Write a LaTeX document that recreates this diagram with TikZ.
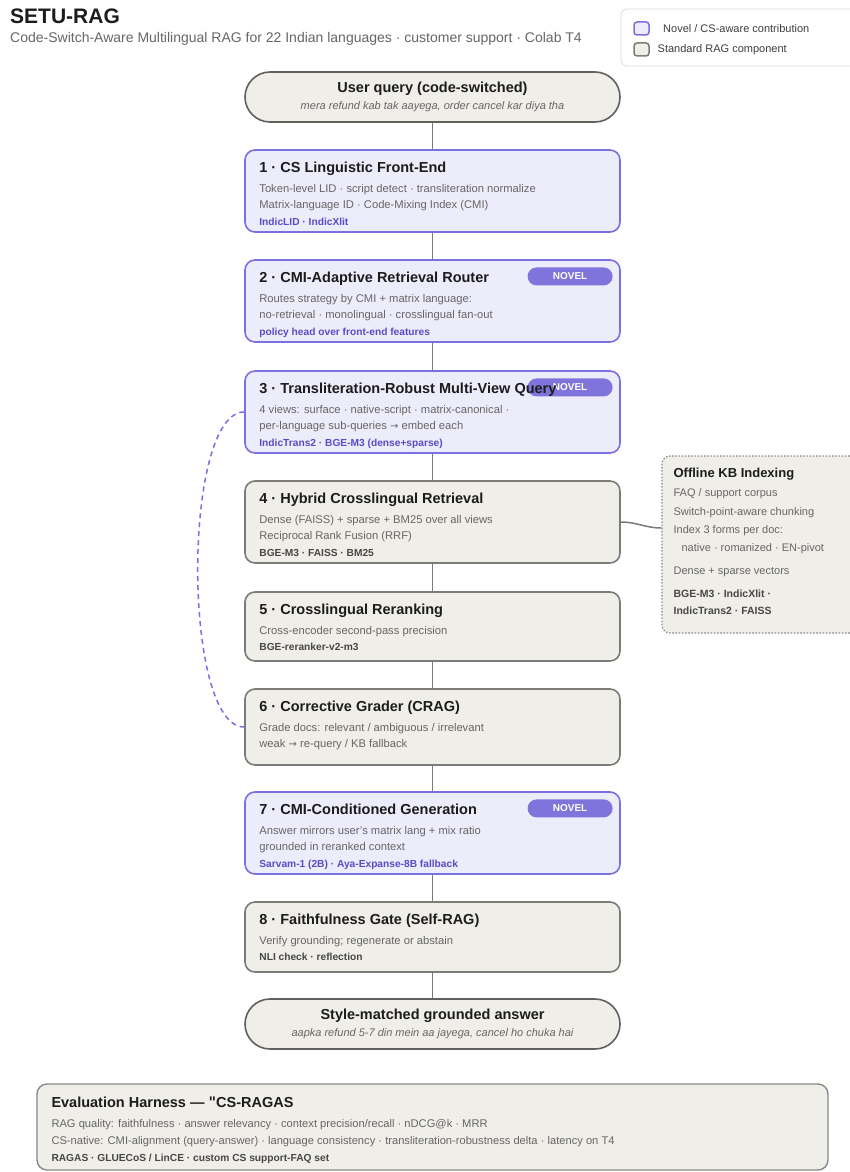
\documentclass[tikz,border=0pt]{standalone}
\usepackage{fontspec}
\setmainfont{Liberation Sans}
\newfontfamily\symfont{DejaVu Sans}
\usetikzlibrary{positioning,calc}

\definecolor{novfill}{HTML}{EDECFB}
\definecolor{novedge}{HTML}{7C6FE0}
\definecolor{novbadge}{HTML}{7F74DC}
\definecolor{novtool}{HTML}{5A4BC6}
\definecolor{stdfill}{HTML}{F0EEE8}
\definecolor{stdedge}{HTML}{7D7B76}
\definecolor{pilledge}{HTML}{62605C}
\definecolor{kbedge}{HTML}{8E8C87}
\definecolor{legedge}{HTML}{DCDCDC}
\definecolor{ttlink}{HTML}{1C1C1C}
\definecolor{bodyink}{HTML}{666666}
\definecolor{stdtool}{HTML}{474747}
\definecolor{wireink}{HTML}{7A7A7A}

\newcommand{\stagetitle}[1]{{\fontsize{14.5}{16.5}\selectfont\bfseries\color{ttlink}#1}}
\newcommand{\novtools}[1]{{\fontsize{10.2}{16.5}\selectfont\bfseries\color{novtool}#1}}
\newcommand{\stdtools}[1]{{\fontsize{10.2}{16.5}\selectfont\bfseries\color{stdtool}#1}}
\newcommand{\example}[1]{{\fontsize{11}{17}\selectfont\itshape\color{bodyink}#1}}
\newcommand{\toarrow}{{\symfont\fontsize{10}{10}\selectfont →}}

\begin{document}
\begin{tikzpicture}[
    x=1pt, y=-1pt,
    novel/.style={draw=novedge, fill=novfill, line width=1.6pt, rounded corners=10pt, minimum width=375, inner sep=0pt},
    standard/.style={draw=stdedge, fill=stdfill, line width=1.6pt, rounded corners=10pt, minimum width=375, inner sep=0pt},
    endpoint/.style={draw=pilledge, fill=stdfill, line width=1.6pt, rounded corners=25pt, minimum width=375, minimum height=50, inner sep=0pt, align=center, font=\fontsize{11}{17}\selectfont},
    stagetext/.style={anchor=north west, text width=350pt, align=flush left, inner sep=0pt, font=\fontsize{11.2}{16.5}\selectfont, text=bodyink},
    novtag/.style={anchor=north east, fill=novbadge, rounded corners=9pt, minimum width=85, minimum height=18, inner sep=0pt, text=white, font=\fontsize{10}{10}\selectfont\bfseries},
    swatch/.style={line width=1.5pt, rounded corners=3pt, minimum width=15, minimum height=13, inner sep=0pt},
    legtext/.style={anchor=west, inner sep=0pt, font=\fontsize{11}{13}\selectfont, text=ttlink!85},
    wire/.style={draw=wireink, line width=1.5pt},
    loopback/.style={draw=novedge, line width=1.5pt, dash pattern=on 5pt off 4pt}
  ]
    \useasboundingbox[fill=white] (0,0) rectangle (849,1172);

    % header
    \node[anchor=base west, inner sep=0pt, font=\fontsize{21}{21}\selectfont\bfseries, text=ttlink] (title) at (10,24) {SETU-RAG};
    \node[anchor=base west, inner sep=0pt, font=\fontsize{14}{14}\selectfont, text=bodyink] (subtitle) at (10,42.5)
      {Code-Switch-Aware Multilingual RAG for 22 Indian languages · customer support · Colab T4};

    % legend
    \node[draw=legedge, fill=white, line width=0.8pt, rounded corners=6pt, minimum width=250, minimum height=57, inner sep=0pt] (legend) at (746,37.5) {};
    \node[swatch, draw=novedge, fill=novfill] (swnov) at (641.5,28.5) {};
    \node[swatch, draw=stdedge, fill=stdfill] (swstd) at (641.5,49.5) {};
    \node[legtext] (lnov) at (663,28.5) {Novel / CS-aware contribution};
    \node[legtext] (lstd) at (657.5,49.5) {Standard RAG component};

    % pipeline
    \node[endpoint] (query) at (432.5,97)
      {\stagetitle{User query (code-switched)}\\ \example{mera refund kab tak aayega, order cancel kar diya tha}};

    \node[novel, minimum height=82] (s1) at (432.5,191) {};
    \node[stagetext] (s1txt) at ([xshift=15pt,yshift=-12.5pt]s1.north west)
      {\stagetitle{1 · CS Linguistic Front-End}\\[3.5pt]
       Token-level LID · script detect · transliteration normalize\\
       Matrix-language ID · Code-Mixing Index (CMI)\\
       \novtools{IndicLID · IndicXlit}};

    \node[novel, minimum height=82] (s2) at (432.5,301) {};
    \node[novtag] (s2tag) at ([xshift=-8pt,yshift=-8pt]s2.north east) {NOVEL};
    \node[stagetext] (s2txt) at ([xshift=15pt,yshift=-12.5pt]s2.north west)
      {\stagetitle{2 · CMI-Adaptive Retrieval Router}\\[3.5pt]
       Routes strategy by CMI + matrix language:\\
       no-retrieval · monolingual · crosslingual fan-out\\
       \novtools{policy head over front-end features}};

    \node[novel, minimum height=82] (s3) at (432.5,412) {};
    \node[novtag] (s3tag) at ([xshift=-8pt,yshift=-8pt]s3.north east) {NOVEL};
    \node[stagetext] (s3txt) at ([xshift=15pt,yshift=-12.5pt]s3.north west)
      {\stagetitle{3 · Transliteration-Robust Multi-View Query}\\[3.5pt]
       4 views: surface · native-script · matrix-canonical ·\\
       per-language sub-queries \toarrow{} embed each\\
       \novtools{IndicTrans2 · BGE-M3 (dense+sparse)}};

    \node[standard, minimum height=82] (s4) at (432.5,522) {};
    \node[stagetext] (s4txt) at ([xshift=15pt,yshift=-12.5pt]s4.north west)
      {\stagetitle{4 · Hybrid Crosslingual Retrieval}\\[3.5pt]
       Dense (FAISS) + sparse + BM25 over all views\\
       Reciprocal Rank Fusion (RRF)\\
       \stdtools{BGE-M3 · FAISS · BM25}};

    \node[standard, minimum height=69] (s5) at (432.5,626.5) {};
    \node[stagetext] (s5txt) at ([xshift=15pt,yshift=-12.5pt]s5.north west)
      {\stagetitle{5 · Crosslingual Reranking}\\[3.5pt]
       Cross-encoder second-pass precision\\
       \stdtools{BGE-reranker-v2-m3}};

    \node[standard, minimum height=76] (s6) at (432.5,727) {};
    \node[stagetext] (s6txt) at ([xshift=15pt,yshift=-12.5pt]s6.north west)
      {\stagetitle{6 · Corrective Grader (CRAG)}\\[3.5pt]
       Grade docs: relevant / ambiguous / irrelevant\\
       weak \toarrow{} re-query / KB fallback};

    \node[novel, minimum height=82] (s7) at (432.5,833) {};
    \node[novtag] (s7tag) at ([xshift=-8pt,yshift=-8pt]s7.north east) {NOVEL};
    \node[stagetext] (s7txt) at ([xshift=15pt,yshift=-12.5pt]s7.north west)
      {\stagetitle{7 · CMI-Conditioned Generation}\\[3.5pt]
       Answer mirrors user's matrix lang + mix ratio\\
       grounded in reranked context\\
       \novtools{Sarvam-1 (2B) · Aya-Expanse-8B fallback}};

    \node[standard, minimum height=70] (s8) at (432.5,937) {};
    \node[stagetext] (s8txt) at ([xshift=15pt,yshift=-12.5pt]s8.north west)
      {\stagetitle{8 · Faithfulness Gate (Self-RAG)}\\[3.5pt]
       Verify grounding; regenerate or abstain\\
       \stdtools{NLI check · reflection}};

    \node[endpoint] (answer) at (432.5,1024)
      {\stagetitle{Style-matched grounded answer}\\ \example{aapka refund 5-7 din mein aa jayega, cancel ho chuka hai}};

    \draw[wire] (query) -- (s1);
    \draw[wire] (s1) -- (s2);
    \draw[wire] (s2) -- (s3);
    \draw[wire] (s3) -- (s4);
    \draw[wire] (s4) -- (s5);
    \draw[wire] (s5) -- (s6);
    \draw[wire] (s6) -- (s7);
    \draw[wire] (s7) -- (s8);
    \draw[wire] (s8) -- (answer);

    % corrective loop back to the multi-view query
    \draw[loopback] (s3.west) .. controls +(-62,0) and +(-62,0) .. (s6.west);

    % offline indexing
    \node[draw=kbedge, fill=stdfill, line width=1.2pt, dash pattern=on 1.6pt off 1.6pt, rounded corners=8pt,
          minimum width=215, minimum height=177, inner sep=0pt] (kb) at (769.5,544.5) {};
    \node[stagetext, text width=185pt, font=\fontsize{11}{18}\selectfont] (kbtxt) at ([xshift=12pt,yshift=-12.3pt]kb.north west)
      {{\fontsize{13}{18}\selectfont\bfseries\color{ttlink}Offline KB Indexing}\\[1.3pt]
       FAQ / support corpus\\[1pt]
       Switch-point-aware chunking\\
       Index 3 forms per doc:\\
       \hspace*{8pt}native · romanized · EN-pivot\\[5pt]
       Dense + sparse vectors\\[5pt]
       {\fontsize{10.5}{18}\selectfont\bfseries\color{stdtool}BGE-M3 · IndicXlit ·}\\[-1pt]
       {\fontsize{10.5}{18}\selectfont\bfseries\color{stdtool}IndicTrans2 · FAISS}};
    \coordinate (kbin) at ([yshift=-6pt]kb.west |- s4.east);
    \draw[wire] (s4.east) to[out=0, in=180] (kbin);

    % evaluation
    \node[draw=stdedge!90, fill=stdfill, line width=1.4pt, rounded corners=10pt,
          minimum width=791, minimum height=86, inner sep=0pt] (evalh) at (432.5,1127) {};
    \node[stagetext, text width=770pt, font=\fontsize{11.15}{17}\selectfont] (evaltxt) at ([xshift=15pt,yshift=-13.8pt]evalh.north west)
      {\stagetitle{Evaluation Harness — {\symfont"}CS-RAGAS}\\[3pt]
       RAG quality: faithfulness · answer relevancy · context precision/recall · nDCG@k · MRR\\
       CS-native: CMI-alignment (query-answer) · language consistency · transliteration-robustness delta · latency on T4\\
       \stdtools{RAGAS · GLUECoS / LinCE · custom CS support-FAQ set}};
  \end{tikzpicture}
\end{document}
